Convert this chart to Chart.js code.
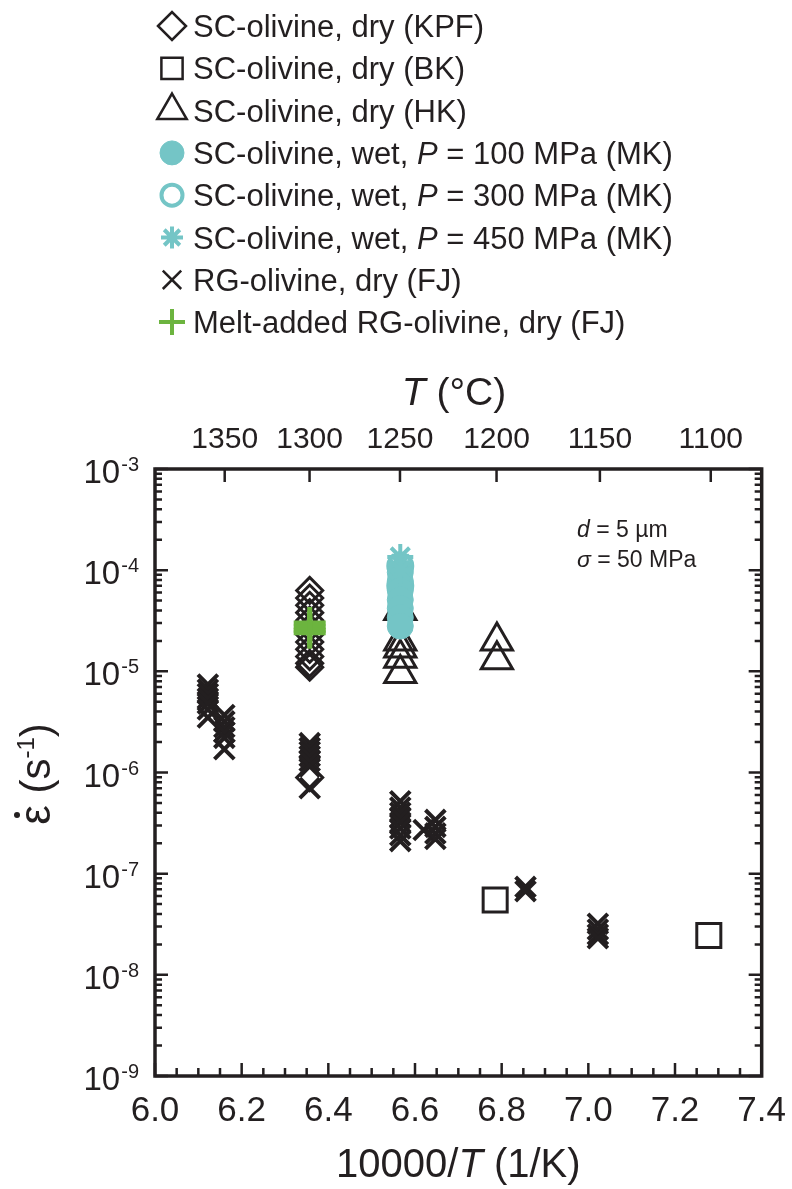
<!DOCTYPE html>
<html>
<head>
<meta charset="utf-8">
<script src="https://cdn.jsdelivr.net/npm/chart.js@4/dist/chart.umd.min.js"></script>
<style>
  html, body { margin: 0; padding: 0; background: #fff; }
  #wrap { width: 792px; height: 1189px; }
</style>
</head>
<body>
<div id="wrap"><canvas id="chart" width="792" height="1189"></canvas></div>
<script>
// values: x = 10000/T (1/K), y = strain rate (1/s)
let kpfInvT = [6.357, 6.357, 6.357, 6.357, 6.357, 6.357, 6.357, 6.357, 6.357, 6.357, 6.357, 6.357, 6.357];
let kpfRate = [6.3e-5, 5.3e-5, 4.5e-5, 3.8e-5, 3.2e-5, 2.7e-5, 2.3e-5, 1.95e-5, 1.65e-5, 1.4e-5, 1.2e-5, 1.1e-5, 8.9e-7];

let bkInvT = [6.785, 7.278];
let bkRate = [5.5e-8, 2.45e-8];

let hkInvT = [6.566, 6.566, 6.566, 6.566, 6.566, 6.789, 6.789];
let hkRate = [4.0e-5, 2.0e-5, 1.7e-5, 1.35e-5, 9.5e-6, 2.0e-5, 1.3e-5];

let mk100InvT = [6.566, 6.566, 6.566, 6.566, 6.566, 6.566, 6.566];
let mk100Rate = [9.5e-5, 7.8e-5, 6.3e-5, 5.1e-5, 4.2e-5, 3.4e-5, 2.8e-5];

let mk300InvT = [6.566, 6.566];
let mk300Rate = [1.1e-4, 7.0e-5];

let mk450InvT = [6.566, 6.566, 6.566];
let mk450Rate = [1.35e-4, 1.15e-4, 1.0e-4];

let fjInvT = [
  6.122, 6.122, 6.122, 6.122, 6.122, 6.122, 6.122,
  6.160, 6.160, 6.160, 6.160, 6.160, 6.160,
  6.357, 6.357, 6.357, 6.357, 6.357, 6.357, 6.357,
  6.566, 6.566, 6.566, 6.566, 6.566, 6.566, 6.566, 6.566,
  6.620,
  6.647, 6.647, 6.647, 6.647,
  6.855, 6.855,
  7.022, 7.022, 7.022, 7.022
];
let fjRate = [
  7.4e-6, 6.6e-6, 6.0e-6, 5.4e-6, 4.8e-6, 4.2e-6, 3.5e-6,
  3.7e-6, 3.2e-6, 2.8e-6, 2.5e-6, 2.2e-6, 1.7e-6,
  1.95e-6, 1.75e-6, 1.6e-6, 1.45e-6, 1.3e-6, 1.15e-6, 7.0e-7,
  5.2e-7, 4.5e-7, 4.0e-7, 3.6e-7, 3.2e-7, 2.8e-7, 2.4e-7, 2.1e-7,
  2.7e-7,
  3.4e-7, 2.9e-7, 2.5e-7, 2.2e-7,
  7.4e-8, 6.7e-8,
  3.2e-8, 2.8e-8, 2.5e-8, 2.3e-8
];

let meltInvT = [6.357, 6.357, 6.357, 6.357];
let meltRate = [3.0e-5, 2.75e-5, 2.55e-5, 2.4e-5];

let topTempC = [1350, 1300, 1250, 1200, 1150, 1100];
let yExponents = [-3, -4, -5, -6, -7, -8, -9];

// *...* marks italic parts
let legendLabels = [
  'SC-olivine, dry (KPF)',
  'SC-olivine, dry (BK)',
  'SC-olivine, dry (HK)',
  'SC-olivine, wet, *P* = 100 MPa (MK)',
  'SC-olivine, wet, *P* = 300 MPa (MK)',
  'SC-olivine, wet, *P* = 450 MPa (MK)',
  'RG-olivine, dry (FJ)',
  'Melt-added RG-olivine, dry (FJ)'
];

const INK = '#231f20';
const CYAN = '#74c5c6';
const GREEN = '#6cb43f';
const NONE = 'rgba(0,0,0,0)';
const FONT = '"Liberation Sans", Arial, Helvetica, sans-serif';

function pts(xs, ys) {
  return xs.map((x, i) => ({ x: x, y: ys[i] }));
}

function series(label, xs, ys, style, radius, width, stroke, fill, order) {
  return {
    label: label,
    data: pts(xs, ys),
    pointStyle: style,
    pointRadius: radius,
    pointHoverRadius: radius,
    pointBorderWidth: width,
    pointHoverBorderWidth: width,
    borderColor: stroke,
    backgroundColor: fill,
    showLine: false,
    order: order
  };
}

let datasets = [
  series(legendLabels[0], kpfInvT, kpfRate, 'rectRot', 13, 3, INK, NONE, 5),
  series(legendLabels[1], bkInvT, bkRate, 'rect', 17, 3, INK, NONE, 7),
  series(legendLabels[2], hkInvT, hkRate, 'triangle', 18, 3, INK, NONE, 6),
  series(legendLabels[3], mk100InvT, mk100Rate, 'circle', 13, 1, CYAN, CYAN, 3),
  series(legendLabels[4], mk300InvT, mk300Rate, 'circle', 12, 4, CYAN, NONE, 4),
  series(legendLabels[5], mk450InvT, mk450Rate, 'star', 13, 4, CYAN, CYAN, 2),
  series(legendLabels[6], fjInvT, fjRate, 'crossRot', 14, 4, INK, INK, 8),
  series(legendLabels[7], meltInvT, meltRate, 'cross', 16, 5, GREEN, GREEN, 1)
];

// legend marker sizes are a bit different from the plot ones
let legendMarks = [
  { style: 'rectRot', r: 14, w: 2.5, c: INK, f: NONE },
  { style: 'rect', r: 15, w: 2.5, c: INK, f: NONE },
  { style: 'triangle', r: 17, w: 2.5, c: INK, f: NONE },
  { style: 'circle', r: 12, w: 1, c: CYAN, f: CYAN },
  { style: 'circle', r: 10.5, w: 4, c: CYAN, f: NONE },
  { style: 'star', r: 11, w: 4, c: CYAN, f: CYAN },
  { style: 'crossRot', r: 13, w: 2.5, c: INK, f: INK },
  { style: 'cross', r: 13, w: 4, c: GREEN, f: GREEN }
];

function rich(ctx, text, x, y, size, align) {
  let parts = text.split('*');
  let total = 0;
  parts.forEach((p, i) => {
    ctx.font = (i % 2 ? 'italic ' : '') + size + 'px ' + FONT;
    total += ctx.measureText(p).width;
  });
  let cx = align === 'center' ? x - total / 2 : x;
  ctx.textAlign = 'left';
  parts.forEach((p, i) => {
    ctx.font = (i % 2 ? 'italic ' : '') + size + 'px ' + FONT;
    ctx.fillText(p, cx, y);
    cx += ctx.measureText(p).width;
  });
}

function mark(ctx, m, x, y) {
  ctx.save();
  ctx.strokeStyle = m.c;
  ctx.fillStyle = m.f;
  ctx.lineWidth = m.w;
  Chart.helpers.drawPoint(ctx, { pointStyle: m.style, radius: m.r, rotation: 0, borderWidth: m.w }, x, y);
  ctx.restore();
}

const overlay = {
  id: 'overlay',
  afterDraw(chart) {
    const ctx = chart.ctx;
    const a = chart.chartArea;
    const sx = chart.scales.x;
    const sy = chart.scales.y;
    ctx.save();
    ctx.strokeStyle = INK;
    ctx.fillStyle = INK;

    // inward ticks
    ctx.lineWidth = 2.5;
    ctx.beginPath();
    for (let k = 0; k <= 28; k++) {
      let px = sx.getPixelForValue(6 + k * 0.05);
      let len = k % 4 === 0 ? 13 : 8;
      ctx.moveTo(px, a.bottom);
      ctx.lineTo(px, a.bottom - len);
    }
    topTempC.forEach(t => {
      let px = sx.getPixelForValue(10000 / (t + 273.15));
      ctx.moveTo(px, a.top);
      ctx.lineTo(px, a.top + 13);
    });
    for (let e = -9; e <= -3; e++) {
      for (let m = 1; m <= (e === -3 ? 1 : 9); m++) {
        let py = sy.getPixelForValue(m * Math.pow(10, e));
        let len = m === 1 ? 13 : 7;
        ctx.moveTo(a.left, py);
        ctx.lineTo(a.left + len, py);
        ctx.moveTo(a.right, py);
        ctx.lineTo(a.right - len, py);
      }
    }
    ctx.stroke();

    ctx.lineWidth = 3.5;
    ctx.strokeRect(a.left, a.top, a.right - a.left, a.bottom - a.top);

    // y tick labels 10^n
    ctx.textBaseline = 'alphabetic';
    yExponents.forEach(e => {
      let py = sy.getPixelForValue(Math.pow(10, e));
      let sup = String(e);
      ctx.font = '20px ' + FONT;
      let sw = ctx.measureText(sup).width;
      ctx.textAlign = 'left';
      ctx.fillText(sup, 139 - sw, py + 2);
      ctx.font = '33px ' + FONT;
      ctx.textAlign = 'right';
      ctx.fillText('10', 139 - sw - 1, py + 14);
    });

    // axis titles
    rich(ctx, '10000/*T* (1/K)', (a.left + a.right) / 2, 1177, 40, 'center');
    rich(ctx, '*T* (\u00b0C)', 454, 405, 39, 'center');

    // y title, rotated
    ctx.save();
    ctx.translate(50, 774);
    ctx.rotate(-Math.PI / 2);
    let eps = '\u03b5';
    let p1 = ' (s';
    let p3 = ')';
    ctx.font = '44px ' + FONT;
    let we = ctx.measureText(eps).width;
    ctx.font = '42px ' + FONT;
    let w1 = ctx.measureText(p1).width;
    let w3 = ctx.measureText(p3).width;
    ctx.font = '24px ' + FONT;
    let w2 = ctx.measureText('-1').width;
    let x0 = -(we + w1 + w2 + w3) / 2;
    ctx.textAlign = 'left';
    ctx.font = '44px ' + FONT;
    ctx.fillText(eps, x0, 0);
    ctx.beginPath();
    ctx.arc(x0 + we / 2, -33, 3, 0, Math.PI * 2);
    ctx.fill();
    ctx.font = '42px ' + FONT;
    ctx.fillText(p1, x0 + we, 0);
    ctx.font = '24px ' + FONT;
    ctx.fillText('-1', x0 + we + w1, -16);
    ctx.font = '42px ' + FONT;
    ctx.fillText(p3, x0 + we + w1 + w2, 0);
    ctx.restore();

    // annotation
    rich(ctx, '*d* = 5 \u00b5m', 577, 537, 23, 'left');
    rich(ctx, '*\u03c3* = 50 MPa', 577, 567, 23, 'left');

    // legend
    legendLabels.forEach((txt, i) => {
      let base = 37 + i * 42.3;
      mark(ctx, legendMarks[i], 172, base - 11);
      ctx.fillStyle = INK;
      rich(ctx, txt, 193, base, 31, 'left');
    });

    ctx.restore();
  }
};

let el = document.getElementById('chart');
let myChart = new Chart(el.getContext('2d'), {
  type: 'scatter',
  data: { datasets: datasets },
  options: {
    responsive: false,
    animation: false,
    devicePixelRatio: 1,
    layout: { padding: { left: 0, right: 29, top: 0, bottom: 0 } },
    plugins: { legend: { display: false }, tooltip: { enabled: false } },
    scales: {
      x: {
        type: 'linear',
        position: 'bottom',
        min: 6.0,
        max: 7.4,
        grid: { display: false },
        border: { display: false },
        ticks: {
          stepSize: 0.2,
          autoSkip: false,
          maxRotation: 0,
          padding: 6,
          color: INK,
          font: { family: FONT, size: 35 },
          callback: v => Number(v).toFixed(1)
        },
        afterFit: s => { s.height = 113; }
      },
      x2: {
        type: 'linear',
        position: 'top',
        min: 6.0,
        max: 7.4,
        grid: { display: false },
        border: { display: false },
        afterBuildTicks: s => {
          s.ticks = topTempC.map(t => ({ value: 10000 / (t + 273.15) }));
        },
        ticks: {
          autoSkip: false,
          maxRotation: 0,
          padding: 3,
          color: INK,
          font: { family: FONT, size: 30 },
          callback: (v, i) => String(topTempC[i])
        },
        afterFit: s => { s.height = 469; }
      },
      y: {
        type: 'logarithmic',
        position: 'left',
        min: 1e-9,
        max: 1e-3,
        grid: { display: false },
        border: { display: false },
        ticks: { display: false },
        afterFit: s => { s.width = 155; }
      }
    }
  },
  plugins: [overlay]
});
</script>
</body>
</html>
